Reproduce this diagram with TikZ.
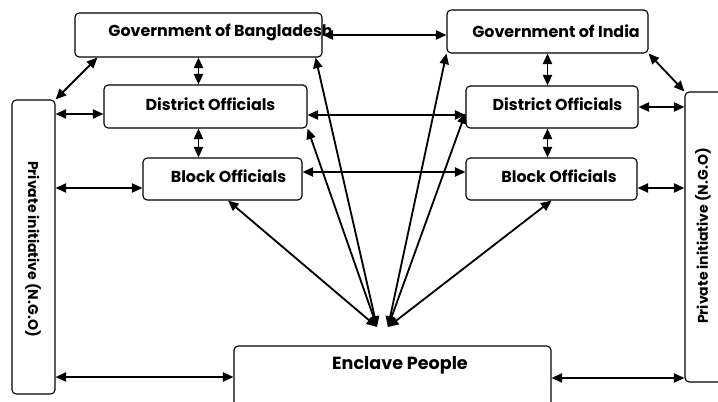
\documentclass[tikz,border=0pt]{standalone}
\usepackage{fontspec}
\setmainfont{Poppins}
\usetikzlibrary{arrows.meta,calc}

\begin{document}
\begin{tikzpicture}[x=0.25cm,y=0.25cm,
  box/.style={draw,line width=0.8pt,rounded corners=3pt,inner sep=0pt},
  size/.style 2 args={minimum width=#1*0.25cm,minimum height=#2*0.25cm},
  lbl/.style={font=\fontsize{11.3}{13}\selectfont\bfseries,inner sep=0pt},
  side/.style={font=\fontsize{10}{12}\selectfont\bfseries,inner sep=0pt},
  link/.style={line width=1.3pt,{Triangle[length=7.5pt,width=6.5pt]}-{Triangle[length=7.5pt,width=6.5pt]}}]
\clip (0,0) rectangle (71.8,40.2);
\fill[white] (0,0) rectangle (71.8,40.2);
\node[box,size={24.7}{4.4}] (gbd) at (19.85,36.7) {};
\node[box,size={20.1}{4.3}] (gin) at (54.75,37.05) {};
\node[box,size={20.3}{4.3}] (dbd) at (20.55,29.55) {};
\node[box,size={17.2}{4.2}] (din) at (55.2,29.5) {};
\node[box,size={15.9}{4.2}] (bbd) at (22.25,22.3) {};
\node[box,size={17.1}{4.2}] (bin) at (55.15,22.3) {};
\node[box,size={4.3}{29.4}] (ngol) at (3.35,15.5) {};
\node[box,size={5.0}{29.0}] (ngor) at (71.0,16.5) {};
\node[box,size={31.7}{7.4}] (enc) at (39.25,1.9) {};
\node[lbl] (gbdt) at (22.05,37.0) {Government of Bangladesh};
\node[lbl] (gint) at (55.6,37.1) {Government of India};
\node[lbl] (dbdt) at (21.05,29.8) {District Officials};
\node[lbl] (dint) at (55.75,29.8) {District Officials};
\node[lbl] (bbdt) at (22.85,22.6) {Block Officials};
\node[lbl] (bint) at (55.9,22.6) {Block Officials};
\node[lbl,font=\fontsize{12.5}{14}\selectfont\bfseries] (enct) at (40.0,3.7) {Enclave People};
\node[side,rotate=-90] (ngolt) at (3.3,15.3) {Private initiative (N.G.O)};
\node[side,rotate=90] (ngort) at (70.3,16.6) {Private initiative (N.G.O)};
\draw[link] (gbd.east) -- (gbd.east -| gin.west);
\draw[link] ($(gbd.south west)+(2.3,0)$) -- (ngol.north east);
\draw[link] (gbd.south) -- (gbd.south |- dbd.north);
\draw[link] (dbd.south -| gbd.south) -- (bbd.north -| gbd.south);
\draw[link] (ngol.east |- 0,28.8) -- (dbd.west |- 0,28.8);
\draw[link] (ngol.east |- 0,21.4) -- (bbd.west |- 0,21.4);
\draw[link] (ngol.east |- 0,2.5) -- (enc.west |- 0,2.5);
\draw[link] (dbd.east |- 0,28.7) -- (din.west |- 0,28.7);
\draw[link] (bbd.east |- 0,23.0) -- (bin.west |- 0,23.0);
\draw[link] (gin.south) -- (gin.south |- din.north);
\draw[link] (din.south -| gin.south) -- (bin.north -| gin.south);
\draw[link] (gin.south east) -- (ngor.north west);
\draw[link] (din.east |- 0,29.5) -- (ngor.west |- 0,29.5);
\draw[link] (bin.east |- 0,21.4) -- (ngor.west |- 0,21.4);
\draw[link] (enc.east |- 0,2.4) -- (ngor.west |- 0,2.4);
\coordinate (fanl) at (37.7,7.5);
\coordinate (fanr) at (38.8,7.5);
\draw[link] ($(gbd.south east)+(-0.7,0)$) -- (fanl);
\draw[link] (dbd.south east) -- (fanl);
\draw[link] ($(bbd.south)+(0.55,0)$) -- (fanl);
\draw[link] (gin.south west) -- (fanr);
\draw[link] ($(din.west)+(0,-0.6)$) -- (fanr);
\draw[link] (bin.south) -- (fanr);
\end{tikzpicture}
\end{document}
